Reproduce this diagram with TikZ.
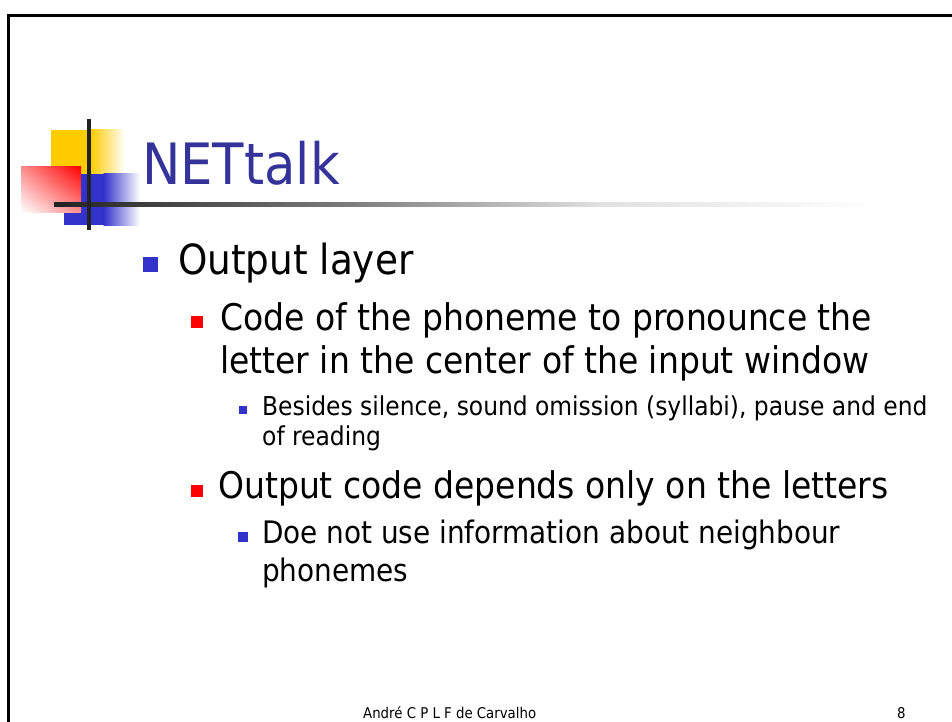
\documentclass[tikz,border=0pt]{standalone}
\usepackage{fontspec}
\usetikzlibrary{shadings}
\setmainfont{DejaVu Sans Condensed}
\definecolor{titleblue}{HTML}{333399}
\definecolor{bulblue}{HTML}{3333CC}
\definecolor{bulred}{HTML}{FF0000}
\definecolor{logoyellow}{HTML}{FFCC00}
\definecolor{logoblue}{HTML}{3333CC}
\definecolor{rulegray}{HTML}{222222}
\newcommand{\fsz}[1]{\fontsize{#1}{#1}\selectfont}
\tikzset{
  line/.style={inner sep=0pt, anchor=base west},
  bulletsq/.style={fill=#1, draw=none, inner sep=0pt, minimum size=0pt, rectangle, anchor=south west},
}
\begin{document}
\begin{tikzpicture}[x=1pt,y=-1pt]
\useasboundingbox (0,0) rectangle (952,722);
\fill[white] (0,0) rectangle (952,722);

% slide frame (top and left edges)
\draw[black, line width=3pt] (8.5,722) -- (8.5,16) -- (952,16);

% logo blocks
\fill[logoyellow] (51,130) rectangle (91,175);
\shade[left color=logoyellow, right color=white] (90.5,130) rectangle (125,175);
\fill[logoblue] (64,174) rectangle (104,225);
\shade[left color=logoblue, right color=white] (103.5,174) rectangle (140,225);
\shade[upper right=bulred, lower left=white, upper left=bulred!45!white, lower right=bulred!45!white] (21,167) rectangle (81,212);

% title rule with fade
\shade[left color=rulegray, right color=black!50] (54,202) rectangle (360,206);
\shade[left color=black!50, right color=black!12] (359.5,202) rectangle (600,206);
\shade[left color=black!12, right color=white] (599.5,202) rectangle (880,206);
% vertical bar of the logo
\fill[rulegray] (87,119) rectangle (91,230);

% title
\node[line, text=titleblue] (title) at (142,184) {\fsz{57}NETtalk};

% first level
\node[line] (out1) at (178,274) {\fsz{41.5}Output layer};
\node[bulletsq=bulblue, minimum width=15pt, minimum height=15pt] (bu1) at (143,272.5) {};

% second level, first item
\node[line] (code1) at (220,330) {\fsz{36.7}Code of the phoneme to pronounce the};
\node[line] (code2) at (220,373) {\fsz{36.7}letter in the center of the input window};
\node[bulletsq=bulred, minimum width=12pt, minimum height=12pt] (bu2) at (191,328) {};

% third level, first item
\node[line] (bes1) at (262,415) {\fsz{26}Besides silence, sound omission (syllabi), pause and end};
\node[line] (bes2) at (262,445) {\fsz{26}of reading};
\node[bulletsq=bulblue, minimum width=8pt, minimum height=8pt] (bu3) at (239,414) {};

% second level, second item
\node[line] (oc) at (218,498) {\fsz{36.7}Output code depends only on the letters};
\node[bulletsq=bulred, minimum width=12pt, minimum height=12pt] (bu4) at (191,497) {};

% third level, second item
\node[line] (doe1) at (262,543) {\fsz{31}Doe not use information about neighbour};
\node[line] (doe2) at (262,581) {\fsz{31}phonemes};
\node[bulletsq=bulblue, minimum width=10pt, minimum height=10pt] (bu5) at (238,542) {};

% footer
\node[line] (author) at (363,718) {\fsz{14.8}André C P L F de Carvalho};
\node[line] (pagenum) at (897,718) {\fsz{14.8}8};
\end{tikzpicture}
\end{document}
